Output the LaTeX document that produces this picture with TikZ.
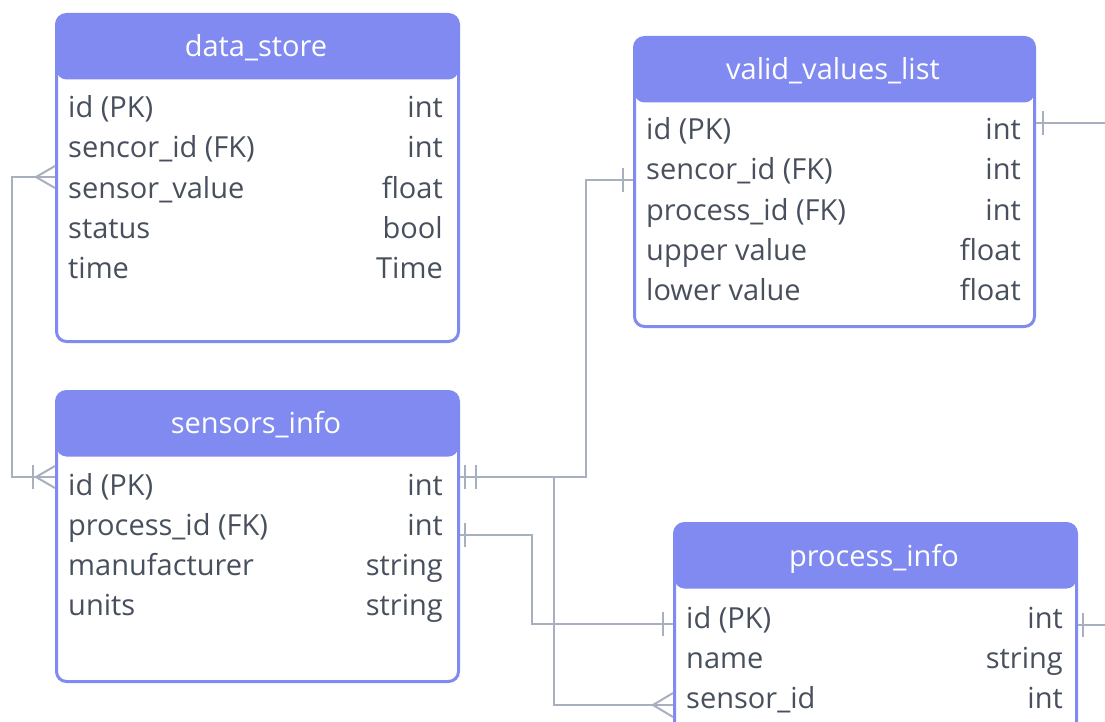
\documentclass[tikz,border=0pt]{standalone}
\usepackage{fontspec}
\setmainfont{Open Sans}
\definecolor{hdr}{RGB}{129,138,240}
\definecolor{txt}{RGB}{72,80,94}
\definecolor{conn}{RGB}{168,176,192}
\begin{document}
\begin{tikzpicture}[x=1pt,y=-1pt,
  tbl/.style={draw=hdr, line width=3pt, fill=white, rounded corners=10pt, anchor=north west, inner sep=0pt,
    path picture={\fill[hdr] (path picture bounding box.north west) rectangle ([yshift=-65pt]path picture bounding box.north east);}},
  fld/.style={anchor=base west, text=txt, inner sep=0pt, font=\fontsize{29}{34}\selectfont},
  typ/.style={anchor=base east, text=txt, inner sep=0pt, font=\fontsize{29}{34}\selectfont},
  ttl/.style={anchor=base, text=white, inner sep=0pt, font=\fontsize{29}{34}\selectfont},
  conn/.style={draw=conn, line width=2pt}]
\clip (0,0) rectangle (1105,722);
\fill[white] (0,0) rectangle (1105,722);

% data_store
\node[tbl, minimum width=402pt, minimum height=327pt] (ds) at (55,13) {};
\node[ttl] (dsT) at (256,57) {data\_store};
\node[fld] (ds1) at (68,118) {id (PK)};        \node[typ] (ds1t) at (443,118) {int};
\node[fld] (ds2) at (68,158) {sencor\_id (FK)}; \node[typ] (ds2t) at (443,158) {int};
\node[fld] (ds3) at (68,198) {sensor\_value};   \node[typ] (ds3t) at (443,198) {float};
\node[fld] (ds4) at (68,238) {status};          \node[typ] (ds4t) at (443,238) {bool};
\node[fld] (ds5) at (68,278) {time};            \node[typ] (ds5t) at (443,278) {Time};

% valid_values_list
\node[tbl, minimum width=400pt, minimum height=289pt] (vv) at (633,36) {};
\node[ttl] (vvT) at (833,80) {valid\_values\_list};
\node[fld] (vv1) at (646,140) {id (PK)};         \node[typ] (vv1t) at (1021,140) {int};
\node[fld] (vv2) at (646,180) {sencor\_id (FK)};  \node[typ] (vv2t) at (1021,180) {int};
\node[fld] (vv3) at (646,220) {process\_id (FK)}; \node[typ] (vv3t) at (1021,220) {int};
\node[fld] (vv4) at (646,260) {upper value};      \node[typ] (vv4t) at (1021,260) {float};
\node[fld] (vv5) at (646,300) {lower value};      \node[typ] (vv5t) at (1021,300) {float};

% sensors_info
\node[tbl, minimum width=402pt, minimum height=290pt] (si) at (55,390) {};
\node[ttl] (siT) at (256,433) {sensors\_info};
\node[fld] (si1) at (68,495) {id (PK)};          \node[typ] (si1t) at (443,495) {int};
\node[fld] (si2) at (68,535) {process\_id (FK)}; \node[typ] (si2t) at (443,535) {int};
\node[fld] (si3) at (68,575) {manufacturer};     \node[typ] (si3t) at (443,575) {string};
\node[fld] (si4) at (68,615) {units};            \node[typ] (si4t) at (443,615) {string};

% process_info
\node[tbl, minimum width=402pt, minimum height=240pt] (pi) at (673,522) {};
\node[ttl] (piT) at (874,566) {process\_info};
\node[fld] (pi1) at (686,628) {id (PK)};    \node[typ] (pi1t) at (1063,628) {int};
\node[fld] (pi2) at (686,668) {name};       \node[typ] (pi2t) at (1063,668) {string};
\node[fld] (pi3) at (686,708) {sensor\_id}; \node[typ] (pi3t) at (1063,708) {int};

\coordinate (vvOut) at (1105,123);
\coordinate (piOut) at (1105,625);

% data_store -- sensors_info
\draw[conn] (ds.west |- 0,177) -| (12,477) -- (si.west |- 0,477);
\draw[conn] (55,166) -- (36,177) -- (55,188);
\draw[conn] (55,466) -- (36,477) -- (55,488);
\draw[conn] (33,465) -- (33,489);

% sensors_info -- valid_values_list
\draw[conn] (si.east |- 0,477) -- (586,477) |- (vv.west |- 0,180);
\draw[conn] (465,465) -- (465,489);
\draw[conn] (476,465) -- (476,489);
\draw[conn] (623,168) -- (623,192);

% sensors_info -- process_info (sensor_id)
\draw[conn] (si.east |- 0,477) -| (554,705) -- (pi.west |- 0,705);
\draw[conn] (673,693) -- (653,705) -- (673,717);

% sensors_info process_id -- process_info id
\draw[conn] (si.east |- 0,535) -| (532,624) -- (pi.west |- 0,624);
\draw[conn] (465,523) -- (465,547);
\draw[conn] (663,612) -- (663,636);

% outgoing lines
\draw[conn] (vv.east |- vvOut) -- (vvOut);
\draw[conn] (1043,111) -- (1043,135);
\draw[conn] (pi.east |- piOut) -- (piOut);
\draw[conn] (1083,613) -- (1083,637);
\end{tikzpicture}
\end{document}
